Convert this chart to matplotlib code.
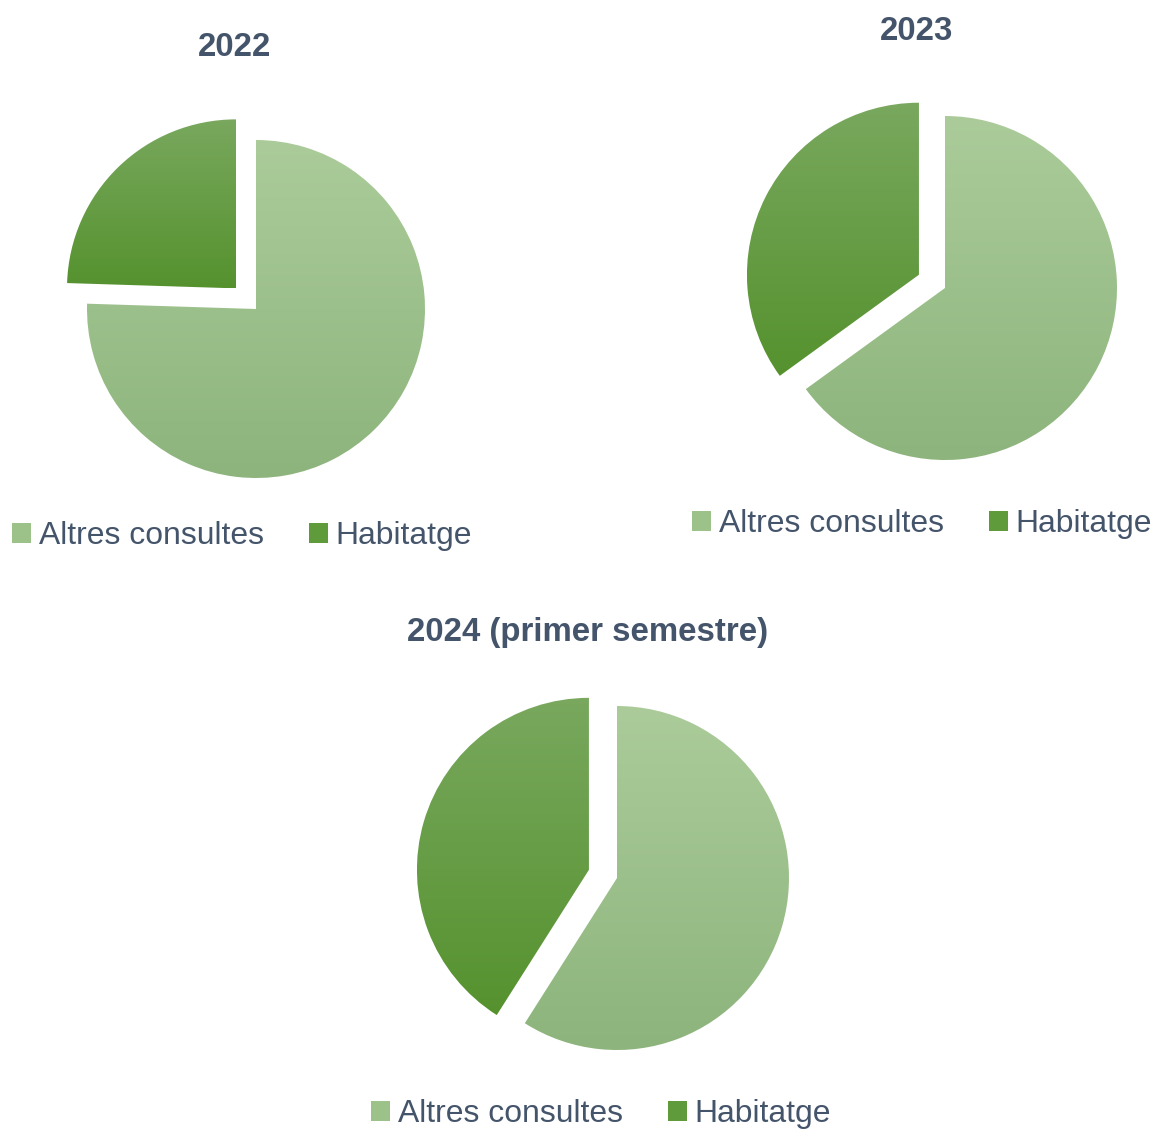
import numpy as np
import matplotlib
matplotlib.use('Agg')
import matplotlib.pyplot as plt
from matplotlib import font_manager
from matplotlib.colors import LinearSegmentedColormap
from matplotlib.patches import Patch

labels = ['Altres consultes', 'Habitatge']
titles = ['2022', '2023', '2024 (primer semestre)']
altres = [75.5, 65, 59]
habitatge = [24.5, 35, 41]

W, H = 1165, 1132
light_top, light_bot = '#abcc9a', '#8db47c'
dark_top, dark_bot = '#79a85e', '#55922e'
text_col = '#44546a'

names = {f.name for f in font_manager.fontManager.ttflist}
if 'Liberation Sans Narrow' in names:
    fam, scale = 'Liberation Sans Narrow', 1.0
else:
    fam, scale = 'Liberation Sans', 0.82

fig = plt.figure(figsize=(W / 100, H / 100), dpi=100)

# pixel layout: centre x, centre y (from top), radius
pies = [(256, 309, 169), (945, 288, 172), (617, 878, 172)]
title_pos = [(235, 47), (917, 32), (588, 632)]
legend_pos = [(12, 536), (692, 524), (371, 1114)]

lim = 1.35
for i, (cx, cy, r) in enumerate(pies):
    side = 2 * lim * r
    ax = fig.add_axes([(cx - side / 2) / W, (H - cy - side / 2) / H, side / W, side / H])
    wedges, _ = ax.pie([habitatge[i], altres[i]], startangle=90, counterclock=True,
                       explode=[0.17, 0], radius=1,
                       wedgeprops=dict(linewidth=0))
    for w, (c1, c2) in zip(wedges, [(dark_top, dark_bot), (light_top, light_bot)]):
        ext = w.get_path().get_extents()
        cmap = LinearSegmentedColormap.from_list('g', [c1, c2])
        grad = np.linspace(0, 1, 256).reshape(-1, 1)
        im = ax.imshow(grad, extent=[ext.x0, ext.x1, ext.y0, ext.y1], cmap=cmap,
                       aspect='auto', origin='upper', interpolation='bilinear',
                       zorder=3)
        im.set_clip_path(w)
        w.set_facecolor('none')
    ax.set_xlim(-lim, lim)
    ax.set_ylim(-lim, lim)
    ax.axis('off')

    tx, ty = title_pos[i]
    fig.text(tx / W, 1 - ty / H, titles[i], ha='center', va='center',
             fontsize=29 * scale, fontweight='bold', color=text_col, family=fam)

    handles = [Patch(facecolor='#9cc28a', edgecolor='none'),
               Patch(facecolor='#5f9a3b', edgecolor='none')]
    lx, ly = legend_pos[i]
    fig.legend(handles, labels, loc='center left', bbox_to_anchor=(lx / W, 1 - ly / H),
               ncol=2, frameon=False, borderpad=0, borderaxespad=0,
               handlelength=0.6, handleheight=0.6, handletextpad=0.25,
               columnspacing=1.4,
               prop=dict(family=fam, size=28 * scale), labelcolor=text_col)

fig.savefig('out.png', dpi=100)
